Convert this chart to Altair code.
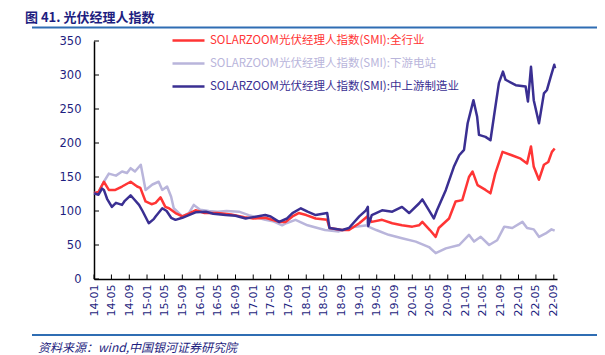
import altair as alt
import pandas as pd

S_ALL = "SOLARZOOM光伏经理人指数(SMI):全行业"
S_DOWN = "SOLARZOOM光伏经理人指数(SMI):下游电站"
S_UP = "SOLARZOOM光伏经理人指数(SMI):中上游制造业"
series_names = [S_ALL, S_DOWN, S_UP]
series_colors = ["#FF3535", "#B9B5DB", "#3A2F92"]

# months since 2014-01 and index values
t_all = [0, 1, 2.3, 3.4, 4.9, 6.4, 8.3, 9.8, 10.5, 11.7, 13, 14, 15.1, 16.2, 17, 18.5, 20,
         21.5, 23, 25, 28, 31, 34, 36, 38.8, 41.9, 43.4, 44.9, 46.3, 48, 50.2, 52.8, 53.3,
         56, 57.7, 60, 61.8, 62.9, 65.2, 67.5, 69.7, 72, 73.5, 74.3, 76, 77.3, 78, 80.3,
         81.8, 83.3, 84.8, 85.6, 86.8, 88.6, 89.7, 90.8, 92.4, 94.5, 96.5, 98, 98.9, 99.5,
         100.7, 101.8, 102.8, 103.6, 104.2]
v_all = [126, 128, 143, 131, 131, 136, 143, 136, 134, 114, 110, 112, 120, 106, 104, 97, 92,
         96, 101, 97, 97, 95, 91, 89, 90, 84, 84, 92, 97, 94, 89, 87, 75,
         72, 72, 82, 92, 84, 87, 82, 79, 77, 79, 84, 72, 62, 75, 89,
         114, 116, 150, 158, 138, 131, 126, 155, 187, 182, 177, 170, 195, 165,
         146, 168, 172, 187, 192]

t_down = [0, 1, 2.3, 3.4, 5, 6.4, 7.5, 8.3, 9.3, 10.6, 11.7, 13.2, 14.7, 15.5, 16.6, 17.5,
          18.1, 20, 21.5, 22.6, 24, 26, 28, 30, 32.8, 35, 38.8, 40.5, 42.6, 43.5, 45.6, 48.3,
          50, 52.3, 55.4, 59.2, 61.8, 62, 62.1, 63.9, 66.7, 69.7, 72.8, 75.8, 77.3, 79.6,
          82.6, 84.8, 86, 87.5, 89.4, 91.2, 92.8, 94.6, 96.9, 98, 99.5, 100.7, 102.2, 103.5,
          104.2]
v_down = [126, 128, 143, 155, 152, 158, 156, 163, 158, 168, 131, 139, 143, 131, 136, 121,
          104, 92, 97, 109, 102, 100, 99, 100, 99, 94, 87, 85, 79, 82, 87, 79,
          76, 72, 70, 77, 79, 100, 77, 72, 65, 60, 55, 47, 38, 45,
          50, 65, 55, 62, 50, 57, 77, 75, 84, 75, 73, 62, 67, 73,
          71]

t_up = [0, 1, 1.8, 2.3, 3, 4.1, 5, 6.4, 7, 8.3, 9, 10.2, 11, 12.4, 13.5, 14, 15.5, 16.5,
        17.5, 18.5, 20, 21.5, 23, 25.3, 27, 29.8, 32, 34.3, 36, 38.8, 40, 41.9, 43.7, 44.9,
        46.8, 48.3, 50.2, 52.8, 53.3, 56.2, 57.7, 60, 61.5, 62, 62.1, 62.9, 65.2, 67.5,
        69.7, 71.3, 73.5, 74.3, 75.8, 76.9, 77.6, 79.6, 81.4, 82.6, 83.7, 84.5, 85.8, 86.7,
        87.1, 88.6, 89.7, 90.5, 91.6, 92.5, 93.1, 95.4, 97.6, 98.2, 98.9, 99.5, 100.7,
        101.8, 102.5, 103.3, 104.1, 104.3]
v_up = [126, 124, 133, 131, 118, 106, 112, 109, 115, 123, 118, 109, 100, 82, 88, 92, 104, 100,
        90, 87, 90, 94, 98, 99, 96, 94, 93, 89, 91, 94, 92, 84, 89, 97,
        104, 99, 94, 97, 75, 72, 75, 92, 101, 106, 78, 94, 101, 99,
        106, 97, 111, 117, 101, 89, 101, 131, 165, 182, 190, 229, 263, 239,
        212, 209, 204, 239, 288, 305, 293, 285, 283, 261, 312, 263, 229,
        273, 278, 297, 315, 310]

y_ticks = [0, 50, 100, 150, 200, 250, 300, 350]
x_tick_labels = ["14-01", "14-05", "14-09", "15-01", "15-05", "15-09", "16-01", "16-05",
                 "16-09", "17-01", "17-05", "17-09", "18-01", "18-05", "18-09", "19-01",
                 "19-05", "19-09", "20-01", "20-05", "20-09", "21-01", "21-05", "21-09",
                 "22-01", "22-05", "22-09"]

TITLE = "图 41.  光伏经理人指数"
SOURCE = "资料来源：wind,中国银河证券研究院"

NAVY = "#1E1E80"
BLUE_LINE = "#2F6DB3"


def month_to_iso(m):
    whole = int(m)
    frac = m - whole
    d = pd.Timestamp("2014-01-01") + pd.DateOffset(months=whole) + pd.Timedelta(days=round(frac * 30.4))
    return d.strftime("%Y-%m-%dT00:00:00")


def frame(name, ts, vs):
    return pd.DataFrame({"series": name, "date": [month_to_iso(t) for t in ts], "value": vs})


df_all = frame(S_ALL, t_all, v_all)
df_down = frame(S_DOWN, t_down, v_down)
df_up = frame(S_UP, t_up, v_up)

tick_dates = ["20%s-%s-01T00:00:00" % (lab[:2], lab[3:]) for lab in x_tick_labels]
x_domain = [alt.DateTime(year=2014, month=1, date=1), alt.DateTime(year=2022, month=9, date=23)]
x_values = [alt.DateTime(year=int("20" + lab[:2]), month=int(lab[3:]), date=1) for lab in x_tick_labels]

x_scale = alt.Scale(domain=x_domain)
y_scale = alt.Scale(domain=[0, 350])
color_scale = alt.Scale(domain=series_names, range=series_colors)

x_axis = alt.Axis(values=x_values, format="%y-%m", labelAngle=270, ticks=False, grid=False,
                  labelColor=NAVY, labelFont="DejaVu Sans", labelFontSize=11, labelPadding=5,
                  domainColor="black", domainWidth=1.5, title=None, labelOverlap=False)
y_axis = alt.Axis(values=y_ticks, ticks=False, grid=False, labelColor=NAVY,
                  labelFont="DejaVu Sans", labelFontSize=11.5, labelPadding=13,
                  domainColor="black", domainWidth=1.5, title=None)

legend = alt.Legend(orient="none", legendX=77, legendY=-18, title=None, symbolType="stroke",
                    symbolSize=1024, symbolStrokeWidth=2.5, labelFont="Noto Sans CJK SC",
                    labelFontSize=11.5, rowPadding=-12, labelOffset=4, labelLimit=400,
                    labelColor=alt.ExprRef(expr="scale('color', datum.value)"))


def line_layer(df):
    return alt.Chart(df).mark_line(strokeWidth=2.5, strokeJoin="round").encode(
        x=alt.X("date:T", scale=x_scale, axis=x_axis),
        y=alt.Y("value:Q", scale=y_scale, axis=y_axis),
        color=alt.Color("series:N", scale=color_scale, legend=legend),
    )


lines = [line_layer(df_down), line_layer(df_all), line_layer(df_up)]

ytick_layer = alt.Chart(pd.DataFrame({"value": y_ticks})).mark_rule(color="black", strokeWidth=1).encode(
    y=alt.Y("value:Q", scale=y_scale, axis=y_axis), x=alt.value(0), x2=alt.value(5))
xtick_layer = alt.Chart(pd.DataFrame({"date": tick_dates})).mark_rule(color="black", strokeWidth=1).encode(
    x=alt.X("date:T", scale=x_scale, axis=x_axis), y=alt.value(238), y2=alt.value(233.5))

one = alt.Data(values=[{}])
title_text = alt.Chart(one).mark_text(align="left", baseline="middle", font="Noto Sans CJK SC",
                                      fontSize=13, fontWeight="bold", color=NAVY).encode(
    x=alt.value(-69), y=alt.value(-23.5), text=alt.value(TITLE))
title_rule = alt.Chart(one).mark_rule(color=BLUE_LINE, strokeWidth=2).encode(
    x=alt.value(-62), x2=alt.value(503), y=alt.value(-13.5))
foot_rule = alt.Chart(one).mark_rule(color=BLUE_LINE, strokeWidth=2).encode(
    x=alt.value(-62), x2=alt.value(503), y=alt.value(294))
foot_text = alt.Chart(one).mark_text(align="left", baseline="middle", font="Noto Sans CJK SC",
                                     fontSize=12, fontStyle="italic", color=NAVY).encode(
    x=alt.value(-56), y=alt.value(307), text=alt.value(SOURCE))

chart = alt.layer(*lines, ytick_layer, xtick_layer, title_text, title_rule, foot_rule, foot_text).properties(
    width=463, height=238,
    autosize=alt.AutoSizeParams(type="none"),
    padding={"left": 86, "top": 33, "right": 40, "bottom": 76},
).configure_view(stroke=None)

chart.save("out.html", embed_options={"renderer": "svg", "actions": False})
